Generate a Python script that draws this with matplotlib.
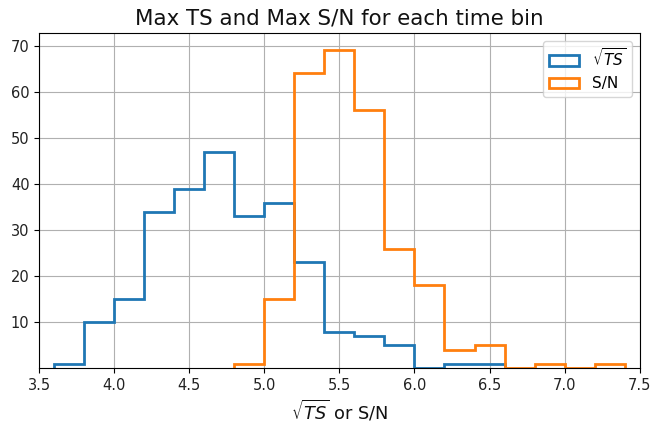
import numpy as np
import matplotlib
matplotlib.use("Agg")
import matplotlib.pyplot as plt

# Bin edges (width 0.2) for each distribution
sqrt_ts_edges = np.round(np.arange(3.6, 6.6001, 0.2), 2)
sn_edges = np.round(np.arange(4.8, 7.4001, 0.2), 2)

# Counts per bin for max sqrt(TS) and max S/N
sqrt_ts_counts = [1, 10, 15, 34, 39, 47, 33, 36, 23, 8, 7, 5, 0, 1, 1]
sn_counts = [1, 15, 64, 69, 56, 26, 18, 4, 5, 0, 1, 0, 1]

sqrt_ts_centers = (sqrt_ts_edges[:-1] + sqrt_ts_edges[1:]) / 2
sn_centers = (sn_edges[:-1] + sn_edges[1:]) / 2

fig, ax = plt.subplots(figsize=(6.54, 4.22), dpi=100)
fig.subplots_adjust(left=0.06, right=0.978, top=0.922, bottom=0.128)

ax.hist(sqrt_ts_centers, bins=sqrt_ts_edges, weights=sqrt_ts_counts,
        histtype="step", linewidth=2, color="#1f77b4", label=r"$\sqrt{TS}$")
ax.hist(sn_centers, bins=sn_edges, weights=sn_counts,
        histtype="step", linewidth=2, color="#ff7f0e", label="S/N")

ax.set_xlim(3.5, 7.5)
ax.set_ylim(0.1, 72.8)
ax.set_yticks([10, 20, 30, 40, 50, 60, 70])
ax.tick_params(labelsize=10.5, labelcolor="#222222")
ax.grid(True)
ax.set_axisbelow(True)
ax.set_title("Max TS and Max S/N for each time bin", fontsize=15.4,
             color="#111111")
ax.set_xlabel(r"$\sqrt{TS}$ or S/N", fontsize=12.8, color="#111111")
ax.legend(loc="upper right", fontsize=11)

fig.savefig("out.png", dpi=100)
